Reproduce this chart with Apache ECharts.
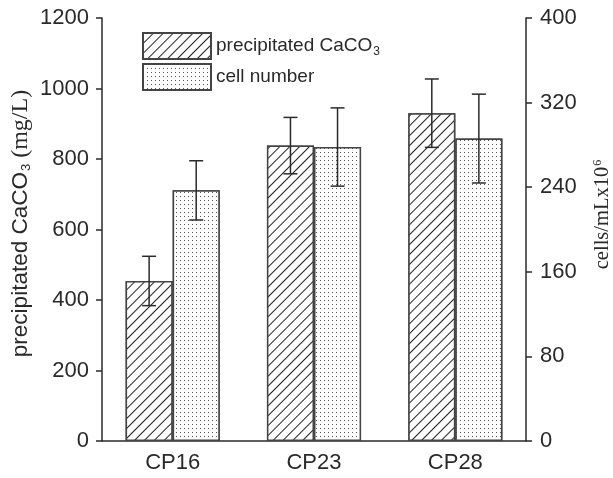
<!DOCTYPE html>
<html><head><meta charset="utf-8">
<script src="https://cdn.jsdelivr.net/npm/echarts@6/dist/echarts.min.js"></script>
<style>html,body{margin:0;padding:0;background:#fff}#c{width:613px;height:478px}</style>
</head><body><div id="c"></div>
<script>
const categories = ['CP16', 'CP23', 'CP28'];
const caco3 = [454, 838, 930];
const caco3Err = [70, 80, 97];
const cells = [237, 278, 286];
const cellsErr = [28, 37, 42];
const leftTicks = {min: 0, max: 1200, interval: 200};
const rightTicks = {min: 0, max: 400, interval: 80};

const SANS = '"Liberation Sans", Arial, sans-serif';
const SERIF = '"Liberation Serif", "Times New Roman", serif';
const INK = '#2a2a2a';
const BAR_FRAC = 0.333;

function errRender(sign) {
  return function (params, api) {
    const cat = api.value(0), v = api.value(1), e = api.value(2);
    const band = api.size([1, 0])[0];
    const off = sign * band * BAR_FRAC / 2;
    const top = api.coord([cat, v + e]);
    const bot = api.coord([cat, v - e]);
    const x = top[0] + off;
    const cap = 7;
    const st = {stroke: INK, lineWidth: 1.5};
    return {type: 'group', children: [
      {type: 'line', shape: {x1: x, y1: top[1], x2: x, y2: bot[1]}, style: st},
      {type: 'line', shape: {x1: x - cap, y1: top[1], x2: x + cap, y2: top[1]}, style: st},
      {type: 'line', shape: {x1: x - cap, y1: bot[1], x2: x + cap, y2: bot[1]}, style: st}
    ]};
  };
}

const hatch = {symbol: 'rect', symbolSize: 1, dashArrayX: [1, 0], dashArrayY: [1, 6], rotation: -Math.PI / 4, color: '#222', backgroundColor: '#fff'};
const dots = {symbol: 'rect', symbolSize: 1, dashArrayX: [1, 3], dashArrayY: [1, 3], rotation: 0, color: '#555', backgroundColor: '#fff'};

const plain = v => String(v);

const chart = echarts.init(document.getElementById('c'));
chart.setOption({
  animation: false,
  backgroundColor: '#fff',
  grid: {left: 102, right: 87, top: 18, bottom: 37, containLabel: false, outerBoundsMode: 'none'},
  legend: {
    orient: 'vertical', left: 142, top: 32, padding: 0, itemWidth: 68, itemHeight: 26, itemGap: 3,
    icon: 'rect',
    data: ['precipitated CaCO3', 'cell number'],
    formatter: function (n) { return n === 'precipitated CaCO3' ? 'precipitated CaCO{sub|3}' : n; },
    textStyle: {fontFamily: SANS, fontSize: 19, color: INK, padding: [0, 0, 0, 0],
      rich: {sub: {fontFamily: SANS, fontSize: 12, color: INK, verticalAlign: 'bottom', padding: [12, 0, 0, 1]}}}
  },
  xAxis: {
    type: 'category', data: categories, boundaryGap: true,
    axisLine: {lineStyle: {color: INK, width: 1.5}},
    axisTick: {show: false},
    axisLabel: {fontFamily: SANS, fontSize: 22, color: INK, margin: 11}
  },
  yAxis: [{
    type: 'value', min: leftTicks.min, max: leftTicks.max, interval: leftTicks.interval,
    position: 'left',
    splitLine: {show: false},
    axisLine: {show: true, lineStyle: {color: INK, width: 1.5}},
    axisTick: {show: true, length: 6, lineStyle: {color: INK, width: 1.5}},
    axisLabel: {fontFamily: SANS, fontSize: 22, color: INK, margin: 13, formatter: plain},
    name: '{s|precipitated CaCO}{sub|3}{t| (mg/L)}',
    nameLocation: 'middle', nameRotate: 90, nameGap: 69, nameMoveOverlap: false,
    nameTextStyle: {padding: [0, 0, 0, 12], rich: {
      s: {fontFamily: SANS, fontSize: 22.5, color: INK},
      sub: {fontFamily: SANS, fontSize: 13, color: INK, padding: [12, 0, 0, 1]},
      t: {fontFamily: SERIF, fontSize: 24, color: INK}
    }}
  }, {
    type: 'value', min: rightTicks.min, max: rightTicks.max, interval: rightTicks.interval,
    position: 'right',
    splitLine: {show: false},
    axisLine: {show: true, lineStyle: {color: INK, width: 1.5}},
    axisTick: {show: true, length: 6, lineStyle: {color: INK, width: 1.5}},
    axisLabel: {fontFamily: SANS, fontSize: 22, color: INK, margin: 14, formatter: plain},
    name: '{t|cells/mLx10}{sup|6}',
    nameLocation: 'middle', nameRotate: 90, nameGap: 66, nameMoveOverlap: false,
    nameTextStyle: {padding: [0, 0, 0, 30], rich: {
      t: {fontFamily: SERIF, fontSize: 20.5, color: INK},
      sup: {fontFamily: SERIF, fontSize: 12, color: INK, padding: [0, 0, 10, 1]}
    }}
  }],
  series: [{
    name: 'precipitated CaCO3', type: 'bar', yAxisIndex: 0, data: caco3,
    barWidth: (BAR_FRAC * 100) + '%', barGap: '0%',
    itemStyle: {color: '#fff', borderColor: '#444', borderWidth: 1.5, decal: hatch}
  }, {
    name: 'cell number', type: 'bar', yAxisIndex: 1, data: cells,
    barWidth: (BAR_FRAC * 100) + '%', barGap: '0%',
    itemStyle: {color: '#fff', borderColor: '#444', borderWidth: 1.5, decal: dots}
  }, {
    type: 'custom', yAxisIndex: 0, renderItem: errRender(-1), z: 5,
    encode: {x: 0, y: 1},
    data: categories.map((c, i) => [i, caco3[i], caco3Err[i]])
  }, {
    type: 'custom', yAxisIndex: 1, renderItem: errRender(1), z: 5,
    encode: {x: 0, y: 1},
    data: categories.map((c, i) => [i, cells[i], cellsErr[i]])
  }]
});
</script></body></html>
